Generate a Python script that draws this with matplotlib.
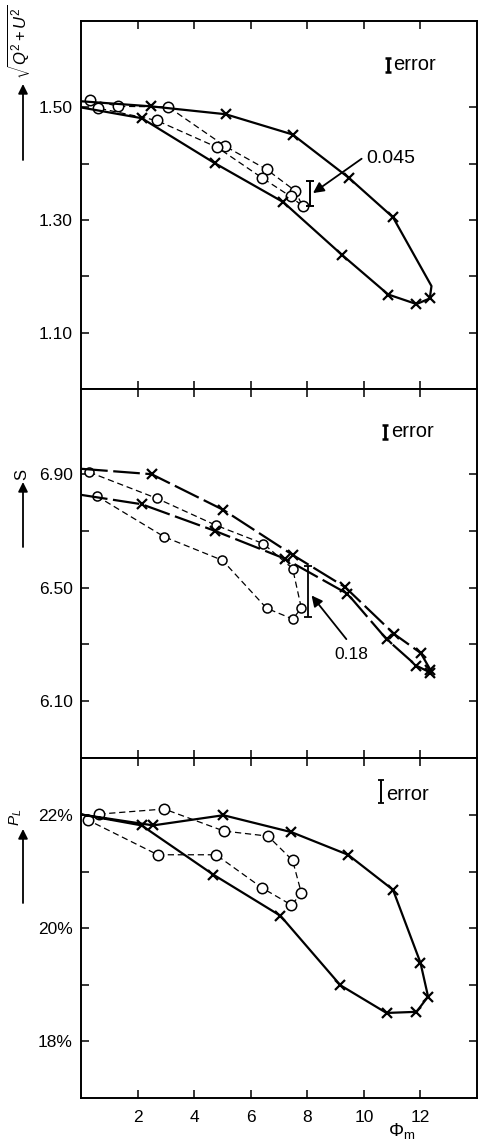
import matplotlib
matplotlib.use("Agg")
import matplotlib.pyplot as plt
from matplotlib.patches import FancyArrowPatch

plt.rcParams['font.family'] = ['Liberation Sans', 'DejaVu Sans']
plt.rcParams['mathtext.fontset'] = 'custom'
plt.rcParams['mathtext.rm'] = 'Liberation Sans'
plt.rcParams['mathtext.it'] = 'Liberation Sans:italic'

# ---------------- data ----------------
# Panel 1: sqrt(Q^2+U^2)
p1_cross_x = [0.0, 2.47, 5.11, 7.48, 9.47, 11.03, 12.39, 12.33, 11.86, 10.86, 9.21, 7.15, 4.73, 2.14, 0.0]
p1_cross_y = [1.511, 1.502, 1.488, 1.452, 1.375, 1.305, 1.183, 1.161, 1.151, 1.168, 1.239, 1.332, 1.401, 1.481, 1.500]
p1_cross_marks = [1, 2, 3, 4, 5, 7, 8, 9, 10, 11, 12, 13]
p1_circ_x = [0.31, 1.32, 3.08, 5.10, 6.56, 7.57, 7.83, 7.41, 6.40, 4.82, 2.67, 0.59]
p1_circ_y = [1.514, 1.502, 1.501, 1.431, 1.390, 1.352, 1.325, 1.342, 1.375, 1.429, 1.477, 1.499]

# Panel 2: S
p2_upper_x = [0.0, 2.49, 5.03, 7.50, 9.33, 11.07, 12.01, 12.35]
p2_upper_y = [6.919, 6.900, 6.774, 6.614, 6.502, 6.336, 6.269, 6.210]
p2_lower_x = [0.0, 2.14, 4.73, 7.20, 9.42, 10.80, 11.86, 12.35]
p2_lower_y = [6.827, 6.794, 6.700, 6.602, 6.478, 6.318, 6.224, 6.200]
p2_circ_x = [0.29, 2.67, 4.76, 6.44, 7.48, 7.79, 7.48, 6.56, 5.00, 2.94, 0.55]
p2_circ_y = [6.907, 6.815, 6.720, 6.655, 6.567, 6.427, 6.389, 6.427, 6.596, 6.679, 6.823]

# Panel 3: P_L (%)
p3_cross_x = [0.04, 2.14, 4.67, 7.05, 9.17, 10.80, 11.86, 12.27, 12.00, 11.03, 9.44, 7.44, 5.03, 2.55, 0.04]
p3_cross_y = [22.01, 21.82, 20.95, 20.22, 18.99, 18.50, 18.52, 18.79, 19.39, 20.68, 21.30, 21.70, 22.00, 21.82, 22.01]
p3_cross_marks = list(range(1, 14))
p3_circ_x = [0.64, 2.94, 5.05, 6.61, 7.48, 7.79, 7.44, 6.41, 4.77, 2.71, 0.26]
p3_circ_y = [22.02, 22.11, 21.72, 21.63, 21.20, 20.62, 20.41, 20.71, 21.30, 21.30, 21.91]

x_ticks = [2, 4, 6, 8, 10, 12]
p1_major = [1.10, 1.30, 1.50]; p1_minor = [1.20, 1.40]
p2_major = [6.10, 6.50, 6.90]; p2_minor = [6.30, 6.70]
p3_major = [18, 20, 22]; p3_minor = [19, 21]
p1_labels = ['1.10', '1.30', '1.50']
p2_labels = ['6.10', '6.50', '6.90']
p3_labels = ['18%', '20%', '22%']

# ---------------- figure ----------------
W, H = 478, 1144
fig = plt.figure(figsize=(W / 100, H / 100), dpi=100)
gs = fig.add_gridspec(3, 1, height_ratios=[3.25, 3.25, 3.0], hspace=0,
                      left=81.1 / W, right=477 / W, top=1 - 20.7 / H, bottom=1 - 1097.7 / H)
axes = [fig.add_subplot(gs[i]) for i in range(3)]

FS = 12.5
FS_ERR = 14.5
for ax in axes:
    ax.set_xlim(0, 14)
    ax.set_xticks(x_ticks)
    ax.tick_params(axis='both', which='both', direction='in', top=True, right=True,
                   length=6, width=1.1, labelsize=FS, pad=6)
    for s in ax.spines.values():
        s.set_linewidth(1.4)

axes[0].set_ylim(1.00, 1.654)
axes[0].set_yticks(p1_major, p1_labels)
axes[0].set_yticks(p1_minor, minor=True)
axes[1].set_ylim(5.90, 7.20)
axes[1].set_yticks(p2_major, p2_labels)
axes[1].set_yticks(p2_minor, minor=True)
axes[2].set_ylim(17.0, 23.02)
axes[2].set_yticks(p3_major, p3_labels)
axes[2].set_yticks(p3_minor, minor=True)
for ax in axes[:2]:
    ax.tick_params(axis='x', labelbottom=False)
axes[2].set_xticklabels([str(t) for t in x_ticks])
axes[2].tick_params(axis='x', pad=9)

cross_kw = dict(color='k', lw=1.6, marker='x', ms=7.5, mew=1.6)
circ_kw = dict(color='k', lw=0.9, ls=(0, (5, 3)), marker='o', ms=7.5, mfc='white', mew=1.1)

# Panel 1
ax = axes[0]
ax.plot(p1_circ_x, p1_circ_y, **circ_kw)
ax.plot(p1_cross_x, p1_cross_y, markevery=p1_cross_marks, **cross_kw)
ax.errorbar([8.09], [1.347], yerr=[0.0225], fmt='none', ecolor='k', elinewidth=1.4, capsize=2.6, capthick=1.4)
ax.annotate('', xy=(8.2, 1.348), xytext=(9.92, 1.409),
            arrowprops=dict(arrowstyle='-|>', lw=1.3, color='k', mutation_scale=16, shrinkA=0, shrinkB=0))
ax.text(10.07, 1.41, '0.045', fontsize=14, va='center', ha='left')
ax.errorbar([10.84], [1.5755], yerr=[0.0125], fmt='none', ecolor='k', elinewidth=2.0, capsize=2.5, capthick=1.8)
ax.text(11.05, 1.576, 'error', fontsize=FS_ERR, va='center', ha='left')

# Panel 2
ax = axes[1]
ax.plot(p2_circ_x, p2_circ_y, color='k', lw=0.9, ls=(0, (5, 3)), marker='o', ms=6.5, mfc='white', mew=1.1)
ax.plot(p2_upper_x, p2_upper_y, color='k', lw=1.6, ls=(0, (12, 2.5)), marker='x', ms=7.5, mew=1.6, markevery=list(range(1, 8)))
ax.plot(p2_lower_x, p2_lower_y, color='k', lw=1.6, ls=(0, (12, 2.5)), marker='x', ms=7.5, mew=1.6, markevery=list(range(1, 8)))
ax.errorbar([8.03], [6.487], yerr=[0.09], fmt='none', ecolor='k', elinewidth=1.3, capsize=2.6, capthick=1.3)
ax.annotate('', xy=(8.15, 6.472), xytext=(9.38, 6.318),
            arrowprops=dict(arrowstyle='-|>', lw=1.3, color='k', mutation_scale=16, shrinkA=0, shrinkB=0))
ax.text(8.95, 6.262, '0.18', fontsize=FS, va='center', ha='left')
ax.errorbar([10.74], [7.05], yerr=[0.025], fmt='none', ecolor='k', elinewidth=2.0, capsize=2.5, capthick=1.8)
ax.text(10.97, 7.052, 'error', fontsize=FS_ERR, va='center', ha='left')

# Panel 3
ax = axes[2]
ax.plot(p3_circ_x, p3_circ_y, **circ_kw)
ax.plot(p3_cross_x, p3_cross_y, markevery=p3_cross_marks, **cross_kw)
ax.errorbar([10.59], [22.42], yerr=[0.21], fmt='none', ecolor='k', elinewidth=1.4, capsize=2.5, capthick=1.3)
ax.text(10.80, 22.37, 'error', fontsize=FS_ERR, va='center', ha='left')

# x label
fig.text(402 / W, 1 - 1131 / H, r'$\Phi_{\rm m}$', fontsize=FS + 1, ha='center', va='center')

# y labels with arrows
def ylab(txt, x, y, fs):
    fig.text(x / W, 1 - y / H, txt, rotation=90, fontsize=fs, ha='center', va='center')

def yarrow(x, y0, y1):
    fig.add_artist(FancyArrowPatch((x / W, 1 - y0 / H), (x / W, 1 - y1 / H),
                                   transform=fig.transFigure, arrowstyle='-|>',
                                   mutation_scale=14, lw=1.3, color='k',
                                   shrinkA=0, shrinkB=0))

ylab(r'$\sqrt{Q^2+U^2}$', 19, 42, 12)
yarrow(23, 160, 84)
ylab('S', 22, 474, 12)
yarrow(23, 547, 482)
ylab(r'$P_L$', 16, 817, 11)
yarrow(23, 903, 829)

fig.savefig('out.png', dpi=100)
